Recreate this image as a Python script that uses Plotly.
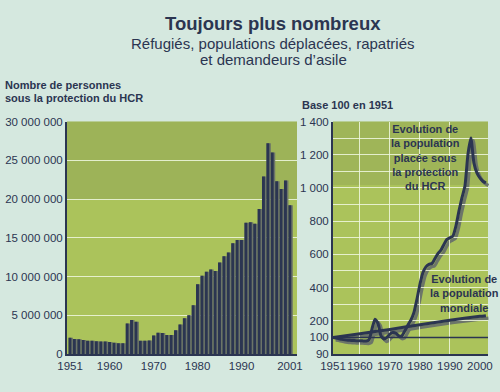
import plotly.graph_objects as go

# ---------------- data ----------------
BAR_YEARS = list(range(1951, 2002))
HCR_PERSONS_M = [2.1, 1.95, 1.9, 1.8, 1.7, 1.7, 1.65, 1.6, 1.6, 1.55,
                 1.45, 1.4, 1.4, 3.95, 4.4, 4.15, 1.7, 1.7, 1.75, 2.4,
                 2.75, 2.7, 2.45, 2.45, 3.05, 3.8, 4.6, 5.0, 6.3, 9.0,
                 10.1, 10.6, 10.9, 10.7, 11.8, 12.6, 13.1, 14.3, 14.7, 14.7,
                 16.95, 17.0, 16.8, 18.7, 22.9, 27.2, 26.0, 22.3, 21.3, 22.4,
                 19.2]
HCR_PERSONS = [v * 1e6 for v in HCR_PERSONS_M]
LEFT_Y_TICKS = [0, 5e6, 10e6, 15e6, 20e6, 25e6, 30e6]
LEFT_Y_LABELS = ["0", "5 000 000", "10 000 000", "15 000 000",
                 "20 000 000", "25 000 000", "30 000 000"]
LEFT_X_TICKS = [1951, 1960, 1970, 1980, 1990, 2001]

LINE_YEARS = list(range(1951, 2003))
HCR_INDEX = [100, 96, 92, 88, 85, 83, 82, 81, 80, 80,
             79, 78, 85, 150, 210, 185, 110, 90, 100, 120,
             130, 125, 108, 110, 140, 175, 205, 250, 330, 420,
             490, 525, 540, 545, 575, 605, 625, 660, 690, 700,
             710, 770, 860, 940, 1010, 1200, 1300, 1150, 1090, 1060,
             1040, 1030]
WORLD_YEARS = [1951, 1960, 1970, 1980, 1990, 2000, 2002]
WORLD_INDEX = [100, 122, 148, 176, 203, 227, 231]
BASE = 100
RIGHT_Y_TICKS = [0, 100, 200, 400, 600, 800, 1000, 1200, 1400]
RIGHT_Y_LABELS = ["90", "100", "200", "400", "600", "800", "1 000", "1 200", "1 400"]
RIGHT_X_TICKS = [1951, 1960, 1970, 1980, 1990, 2000]

# ---------------- style ----------------
PAGE_BG = "#d5e8df"
GREEN = "#abc35b"
NAVY = "#2b3551"
SHADOW = "#6c7569"
GRID = "rgba(240,248,225,0.85)"
FONT = "Liberation Sans"

W, H = 500, 392
def px_x(p): return p / W
def px_y(p): return (H - p) / H

L_X = [px_x(67), px_x(297)]
R_X = [px_x(333), px_x(488)]
Y_DOM = [px_y(354), px_y(121.5)]
SH = 2.5  # shadow offset in px
R_X_SH = [px_x(333 + SH), px_x(488 + SH)]
Y_DOM_SH = [px_y(354 + SH), px_y(121.5 + SH)]

fig = go.Figure()

# left chart: bars with grey shadow
fig.add_trace(go.Bar(x=BAR_YEARS, y=HCR_PERSONS, marker_color=SHADOW,
                     marker_line_width=0, width=0.95, offset=-0.3,
                     xaxis="x", yaxis="y", hoverinfo="skip"))
fig.add_trace(go.Bar(x=BAR_YEARS, y=HCR_PERSONS, marker_color=NAVY,
                     marker_line_width=0, width=0.66, offset=-0.36,
                     xaxis="x", yaxis="y"))

# right chart shadow lines (subplot 2, shifted)
fig.add_trace(go.Scatter(x=WORLD_YEARS, y=WORLD_INDEX, mode="lines",
                         line=dict(color=SHADOW, width=3.2, shape="spline", smoothing=0.6),
                         xaxis="x2", yaxis="y2", hoverinfo="skip"))
fig.add_trace(go.Scatter(x=LINE_YEARS, y=HCR_INDEX, mode="lines",
                         line=dict(color=SHADOW, width=3.2, shape="spline", smoothing=0.5),
                         xaxis="x2", yaxis="y2", hoverinfo="skip"))
# right chart main lines (subplot 3)
fig.add_trace(go.Scatter(x=WORLD_YEARS, y=WORLD_INDEX, mode="lines",
                         line=dict(color=NAVY, width=3, shape="spline", smoothing=0.6),
                         xaxis="x3", yaxis="y3"))
fig.add_trace(go.Scatter(x=LINE_YEARS, y=HCR_INDEX, mode="lines",
                         line=dict(color=NAVY, width=3, shape="spline", smoothing=0.5),
                         xaxis="x3", yaxis="y3"))

tickfont = dict(family=FONT, size=11.5, color=NAVY)
R_RANGE_X = [1951, 2002.7]
R_RANGE_Y = [0, 1400]

fig.update_layout(
    width=W, height=H,
    margin=dict(l=0, r=0, t=0, b=0, autoexpand=False),
    paper_bgcolor=PAGE_BG,
    plot_bgcolor="rgba(0,0,0,0)",
    showlegend=False,
    barmode="overlay",
    xaxis=dict(domain=L_X, range=[1950.3, 2002.6], tickvals=LEFT_X_TICKS,
               tickfont=tickfont, showgrid=False, zeroline=False, tickangle=0,
               automargin=False,
               showline=True, linecolor=NAVY, linewidth=1.5, ticks="", anchor="y"),
    yaxis=dict(domain=Y_DOM, range=[0, 30e6], tickvals=LEFT_Y_TICKS,
               ticktext=LEFT_Y_LABELS, tickfont=tickfont, showgrid=True,
               gridcolor=GRID, gridwidth=1, zeroline=False, automargin=False,
               showline=True, linecolor=NAVY, linewidth=2, ticks="", anchor="x"),
    xaxis2=dict(domain=R_X_SH, range=R_RANGE_X, visible=False, anchor="y2",
                automargin=False),
    yaxis2=dict(domain=Y_DOM_SH, range=R_RANGE_Y, visible=False, anchor="x2",
                automargin=False),
    xaxis3=dict(domain=R_X, range=R_RANGE_X, tickvals=RIGHT_X_TICKS,
                tickfont=tickfont, showgrid=False, zeroline=False, tickangle=0,
                automargin=False,
                minor=dict(tickvals=[1960, 1970, 1980, 1990], showgrid=True,
                           gridcolor=GRID, gridwidth=1, ticks=""),
                showline=True, linecolor=NAVY, linewidth=2, ticks="", anchor="y3"),
    yaxis3=dict(domain=Y_DOM, range=R_RANGE_Y, tickvals=RIGHT_Y_TICKS,
                ticktext=RIGHT_Y_LABELS, tickfont=tickfont, showgrid=False,
                zeroline=False, automargin=False,
                minor=dict(dtick=100, tick0=0, showgrid=True, gridcolor=GRID,
                           gridwidth=1, ticks=""),
                showline=True, linecolor=NAVY, linewidth=2, ticks="", anchor="x3"),
)

# green plot backgrounds (paper shapes below everything)
for xd in (L_X, R_X):
    fig.add_shape(type="rect", xref="paper", yref="paper",
                  x0=xd[0], x1=xd[1], y0=Y_DOM[0], y1=Y_DOM[1],
                  fillcolor=GREEN, line_width=0, layer="below")
# darker stippled upper zones
fig.add_shape(type="rect", xref="paper", yref="paper",
              x0=L_X[0], x1=L_X[1], y0=px_y(200), y1=Y_DOM[1],
              fillcolor="rgba(70,80,70,0.13)", line_width=0, layer="below")
fig.add_shape(type="rect", xref="paper", yref="paper",
              x0=R_X[0], x1=R_X[1], y0=px_y(185), y1=Y_DOM[1],
              fillcolor="rgba(70,80,70,0.12)", line_width=0, layer="below")

# base-100 reference line
fig.add_shape(type="line", xref="x3 domain", yref="y3", x0=0, x1=1,
              y0=BASE, y1=BASE, line=dict(color=NAVY, width=1.5), layer="above")

def ann(text, x, y, size, bold=False, xanchor="center", align="center"):
    if bold:
        text = "<b>" + text + "</b>"
    fig.add_annotation(text=text, x=px_x(x), y=px_y(y), xref="paper", yref="paper",
                       showarrow=False, xanchor=xanchor, yanchor="middle", align=align,
                       font=dict(family=FONT, size=size, color=NAVY))

ann("Toujours plus nombreux", 273, 24, 18.5, bold=True)
ann("Réfugiés, populations déplacées, rapatriés", 273, 43, 15)
ann("et demandeurs d’asile", 273, 60, 15)
ann("Nombre de personnes", 3, 85, 11, bold=True, xanchor="left")
ann("sous la protection du HCR", 3, 98, 11, bold=True, xanchor="left")
ann("Base 100 en 1951", 300, 105, 11, bold=True, xanchor="left")

fig.add_annotation(text="<b>Evolution de<br>la population<br>placée sous<br>la protection<br>du HCR</b>",
                   x=px_x(425), y=px_y(157), xref="paper", yref="paper",
                   showarrow=False, xanchor="center", yanchor="middle", align="center",
                   font=dict(family=FONT, size=11, color=NAVY))
fig.add_annotation(text="<b>Evolution de<br>la population<br>mondiale</b>",
                   x=px_x(464), y=px_y(293), xref="paper", yref="paper",
                   showarrow=False, xanchor="center", yanchor="middle", align="center",
                   font=dict(family=FONT, size=11, color=NAVY))

fig.write_html("out.html", config={"displayModeBar": False},
               post_script="document.body.style.margin='0';")
